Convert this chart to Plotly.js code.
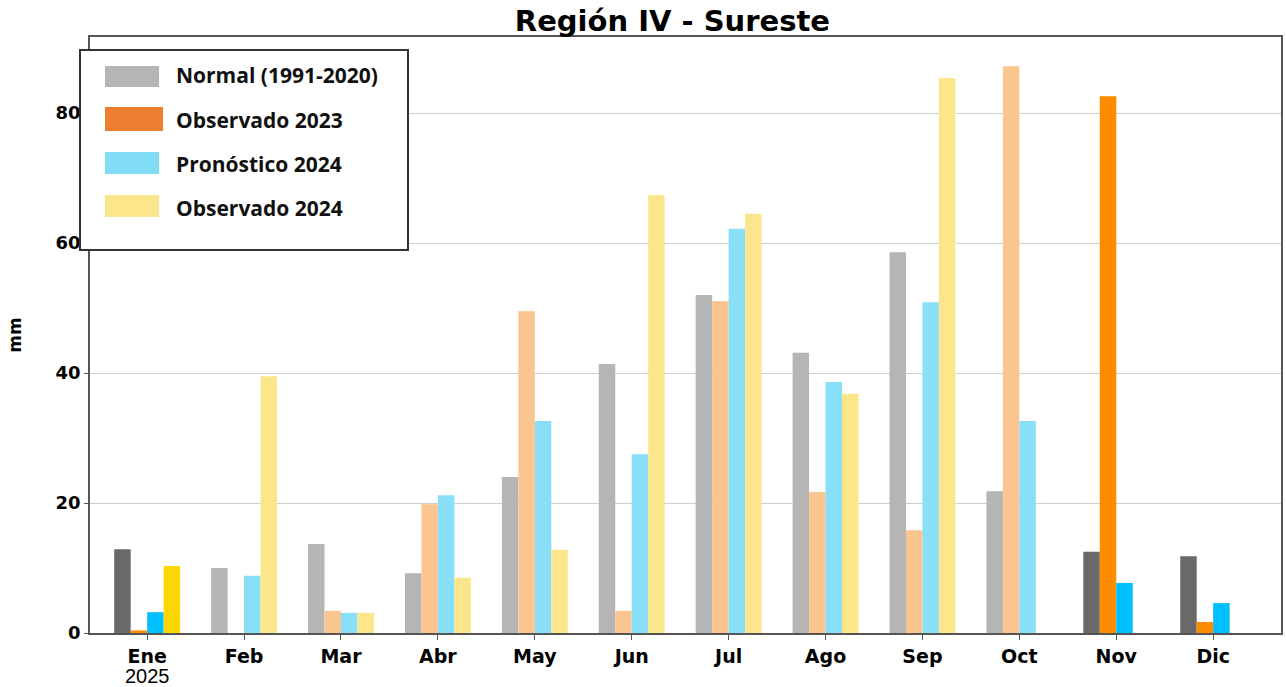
<!DOCTYPE html>
<html><head><meta charset="utf-8">
<script src="https://cdn.plot.ly/plotly-3.0.1.min.js"></script>
<style>html,body{margin:0;padding:0;background:#fff}#chart{width:1286px;height:687px}</style>
</head><body><div id="chart"></div>
<script>
const months = ["Ene","Feb","Mar","Abr","May","Jun","Jul","Ago","Sep","Oct","Nov","Dic"];
const normal = [12.9, 10.0, 13.7, 9.2, 24.0, 41.4, 52.0, 43.1, 58.6, 21.8, 12.5, 11.8];
const obs2023 = [0.4, null, 3.4, 19.8, 49.5, 3.4, 51.1, 21.7, 15.8, 87.2, 82.6, 1.7];
const pron2024 = [3.2, 8.8, 3.1, 21.2, 32.6, 27.5, 62.2, 38.6, 50.9, 32.6, 7.7, 4.6];
const obs2024 = [10.3, 39.5, 3.1, 8.5, 12.8, 67.4, 64.5, 36.8, 85.4, null, null, null];
const highlight = [true, false, false, false, false, false, false, false, false, false, true, true];
const seriesNames = ["Normal (1991-2020)", "Observado 2023", "Pronóstico 2024", "Observado 2024"];

const faded = ["#b5b5b5", "#fac58e", "#89def8", "#fbe68c"];
const strong = ["#696969", "#ff8c00", "#00bfff", "#ffd700"];
const legendCol = ["#b5b5b5", "#ed7d31", "#82dcf6", "#fbe68c"];
const series = [normal, obs2023, pron2024, obs2024];
const W = 0.17;
const traces = [];
series.forEach((vals, i) => {
  traces.push({
    type: "bar", x: months, y: vals, width: W, offset: -2*W + i*W,
    marker: {color: highlight.map(h => h ? strong[i] : faded[i]), line: {width: 0}},
    showlegend: false, hoverinfo: "x+y"
  });
});
series.forEach((vals, i) => {
  traces.push({
    type: "bar", x: [null], y: [null], name: seriesNames[i],
    marker: {color: legendCol[i]}, legendgroup: "g" + i, showlegend: true
  });
});

// legend frame and wide swatches (paper coordinates)
const swatchRows = [[0.9513, 0.9161], [0.8826, 0.8423], [0.8070, 0.7701], [0.7349, 0.6980]];
const shapes = [{type: "rect", xref: "paper", yref: "paper", x0: -0.0084, x1: 0.267, y0: 0.6426, y1: 0.978,
                 line: {color: "#333", width: 2}, fillcolor: "#fff", layer: "above"}];
swatchRows.forEach((r, i) => shapes.push({type: "rect", xref: "paper", yref: "paper",
  x0: 0.0126, x1: i === 1 ? 0.0613 : 0.0580, y0: r[1], y1: r[0], line: {width: 0},
  fillcolor: legendCol[i], layer: "above"}));

const layout = {
  width: 1286, height: 687,
  margin: {l: 90, r: 5, t: 37, b: 54},
  paper_bgcolor: "#fff", plot_bgcolor: "#fff",
  barmode: "overlay",
  title: {text: "Región IV - Sureste", x: 0.489, xref: "paper", xanchor: "center",
          y: 0.9694, yref: "container", yanchor: "middle",
          font: {family: "DejaVu Sans", size: 29, weight: "bold", color: "#000"}},
  xaxis: {type: "category", categoryorder: "array", categoryarray: months,
          range: [-0.59, 11.70], showgrid: false, showline: true, linecolor: "#555", linewidth: 1.5,
          mirror: true, ticks: "outside", ticklen: 5, tickcolor: "#555",
          tickfont: {family: "DejaVu Sans", size: 19, weight: "bold", color: "#000"}},
  yaxis: {range: [0, 91.7], tickvals: [0, 20, 40, 60, 80], showgrid: true, gridcolor: "#cfcfcf",
          gridwidth: 1, showline: true, linecolor: "#555", linewidth: 1.5, mirror: true,
          ticks: "outside", ticklen: 4, tickcolor: "#555", zeroline: false,
          tickfont: {family: "DejaVu Sans", size: 18, weight: "bold", color: "#000"},
          title: {text: "mm", standoff: 30, font: {family: "DejaVu Sans", size: 17, weight: "bold", color: "#000"}}},
  legend: {x: -0.0084, y: 0.9696, xanchor: "left", yanchor: "top", bgcolor: "rgba(0,0,0,0)",
           borderwidth: 0, tracegroupgap: 14, itemwidth: 86,
           font: {family: "Open Sans", size: 21, weight: "bold", color: "#111"}},
  shapes: shapes,
  annotations: [{text: "2025", x: "Ene", xref: "x", y: -0.0721, yref: "paper", yanchor: "middle",
                 showarrow: false, font: {family: "Liberation Sans", size: 20, color: "#000"}}]
};
Plotly.newPlot("chart", traces, layout, {displayModeBar: false, responsive: false});
</script></body></html>
